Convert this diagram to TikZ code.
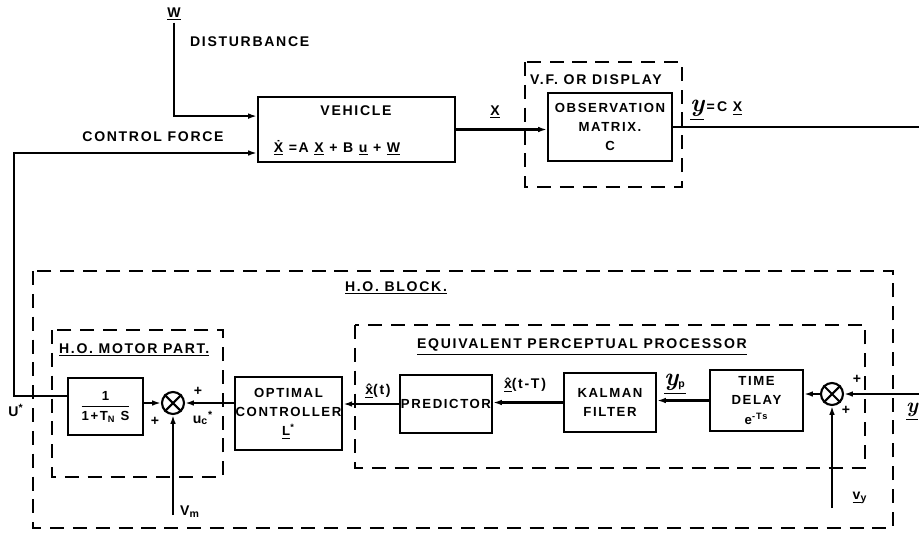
\documentclass[tikz,border=0pt]{standalone}
\usepackage{fontspec}
\setsansfont{Liberation Sans}[LetterSpace=12]
\usetikzlibrary{arrows.meta, calc}

\begin{document}
\begin{tikzpicture}[x=0.02cm, y=-0.02cm,
  blk/.style={draw, line width=1.2pt, inner sep=0.5pt, align=center,
    font=\fontsize{7.5}{11}\selectfont\sffamily\bfseries},
  lbl/.style={font=\fontsize{8}{9.5}\selectfont\sffamily\bfseries, inner sep=1pt},
  summ/.style={draw, circle, line width=1.2pt, minimum size=0.44cm, inner sep=0pt},
  dbox/.style={line width=1pt, dash pattern=on 8pt off 5pt},
  sig/.style={line width=1.2pt, -{Latex[length=5pt,width=3.2pt]}},
  wire/.style={line width=1.2pt}]
\useasboundingbox (0,0) rectangle (919,532);

% dashed groupings
\draw[dbox] (33,271) rectangle (893,528);
\draw[dbox] (525,62) rectangle (682,187);
\draw[dbox] (52,330) rectangle (223,477);
\draw[dbox] (355,325) rectangle (865,468);

% vehicle and display
\node[lbl] (wlbl) at (174,14) {\underline{W}};
\node[lbl, anchor=west] (dist) at (188,42) {DISTURBANCE};
\node[blk, minimum width=3.94cm, minimum height=1.3cm] (veh) at (356.5,129.5) {};
\node[lbl] (vehtitle) at (356,111) {VEHICLE};
\node[lbl] (vehdyn) at (337,148) {\underline{\.X} =A \underline{X} + B \underline{u} + \underline{W}};
\node[lbl] (ctrlf) at (153,137) {CONTROL FORCE};
\node[lbl] (xlbl) at (495,112) {\underline{X}};
\node[lbl] (vf) at (596,80) {V.F. OR DISPLAY};
\node[blk, minimum width=2.48cm, minimum height=1.36cm] (obs) at (610,127) {OBSERVATION\\MATRIX.\\C};
\node[lbl, anchor=west] (yeq) at (688,110) {{\rmfamily\itshape\Large\underline{y}}\,=\,C \underline{X}};
\coordinate (dstin) at ($(veh.north west)!0.3!(veh.south west)$);
\coordinate (vehin) at ($(veh.north west)!0.85!(veh.south west)$);
\coordinate (yout) at (919,127);

% human operator
\node[lbl] (hob) at (396,288) {\underline{H.O. BLOCK.}};
\node[lbl, anchor=west] (hom) at (57,350) {\underline{H.O. MOTOR PART.}};
\node[blk, minimum width=1.5cm, minimum height=1.14cm] (lag) at (105.5,406.5)
  {\begin{tabular}{@{}c@{}}1\\\hline 1+T\textsubscript{N} S\end{tabular}};
\node[summ] (s1) at (173,403) {};
\draw[wire] (s1.45) -- (s1.225) (s1.135) -- (s1.315);
\node[lbl] (p1a) at (155,421) {+};
\node[lbl] (p1b) at (198,391) {+};
\node[lbl] (uc) at (203,418) {u\textsubscript{c}\textsuperscript{*}};
\node[lbl] (vm) at (190,512) {V\textsubscript{m}};
\node[lbl] (ustar) at (16,410) {U\textsuperscript{*}};
\coordinate (vmbot) at (173,515);
\coordinate (ucorner) at (14,396);
\node[blk, minimum width=2.06cm, minimum height=1.46cm] (ctrl) at (288.5,413.5)
  {OPTIMAL\\CONTROLLER\\\underline{L}\textsuperscript{*}};

% perceptual processor
\node[lbl] (eppl) at (582,347) {\underline{EQUIVALENT PERCEPTUAL PROCESSOR}};
\node[lbl] (xt) at (378,391) {\underline{\^{x}}(t)};
\node[blk, minimum width=1.84cm, minimum height=1.16cm] (pred) at (446,404) {PREDICTOR};
\node[lbl] (xtt) at (525,385) {\underline{\^{x}}(t-T)};
\node[blk, minimum width=1.84cm, minimum height=1.18cm] (kal) at (610,402.5) {KALMAN\\FILTER};
\node[lbl] (yp) at (675,384) {\underline{{\rmfamily\itshape\Large y}\textsubscript{p}}};
\node[blk, minimum width=1.86cm, minimum height=1.22cm] (dly) at (756.5,400.5) {TIME\\DELAY\\e\textsuperscript{-Ts}};
\node[summ] (s2) at (832,394) {};
\draw[wire] (s2.45) -- (s2.225) (s2.135) -- (s2.315);
\node[lbl] (p2a) at (857,379) {+};
\node[lbl] (p2b) at (846,410) {+};
\node[lbl] (vy) at (860,498) {\underline{v}\textsubscript{y}};
\node[lbl] (yr) at (912,412) {{\rmfamily\itshape\large\underline{y}}};
\coordinate (vybot) at (832,508);
\coordinate (yin) at (919,394);

% signal lines
\draw[sig] (wlbl.south) |- (dstin);
\draw[sig] (lag.west |- ucorner) -- (ucorner) |- (vehin);
\draw[sig] (veh.east) -- (veh.east -| obs.west);
\draw[wire] (obs.east) -- (obs.east -| yout);
\draw[sig] (yin) -- (s2.east);
\draw[sig] (s2.west) -- (s2.west -| dly.east);
\draw[sig] (dly.west) -- (dly.west -| kal.east);
\draw[sig] (kal.west) -- (kal.west -| pred.east);
\draw[sig] (pred.west) -- (pred.west -| ctrl.east);
\draw[sig] (ctrl.west |- s1) -- (s1.east);
\draw[sig] (lag.east |- s1) -- (s1.west);
\draw[sig] (vmbot) -- (s1.south);
\draw[sig] (vybot) -- (s2.south);
\end{tikzpicture}
\end{document}
